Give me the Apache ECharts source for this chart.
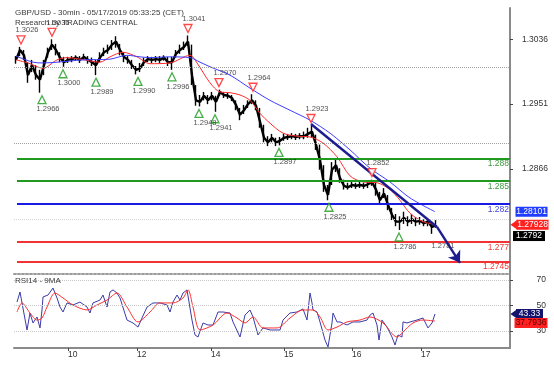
<!DOCTYPE html>
<html><head><meta charset="utf-8">
<script src="https://cdn.jsdelivr.net/npm/echarts@6/dist/echarts.min.js"></script>
<style>html,body{margin:0;padding:0;background:#fff}#c{width:554px;height:365px}</style>
</head><body><div id="c"></div>
<script>
// ---------- DATA ----------
const titleLine1 = 'GBP/USD - 30min - 05/17/2019 05:33:25 (CET)';
const titleLine2 = 'Research by TRADING CENTRAL';
const rsiTitle = 'RSI14 - 9MA';

// price path, one sample per step (index 0..105)
const closes = [1.3009,1.3022,1.3015,1.2989,1.3002,1.2989,1.2983,1.3002,1.3019,1.3029,
1.3022,1.3012,1.3006,1.3009,1.3010,1.3012,1.3009,1.3013,1.3009,1.3006,
1.3002,1.3012,1.3019,1.3022,1.3029,1.3033,1.3022,1.3013,1.3009,1.3002,
1.2996,1.2998,1.3006,1.3010,1.3009,1.3010,1.3009,1.3012,1.3006,1.3006,
1.3017,1.3022,1.3026,1.3033,1.2989,1.2956,1.2954,1.2962,1.2956,1.2962,
1.2954,1.2967,1.2963,1.2962,1.2959,1.2950,1.2937,1.2943,1.2951,1.2956,
1.2949,1.2928,1.2907,1.2901,1.2907,1.2901,1.2903,1.2907,1.2908,1.2909,
1.2908,1.2909,1.2909,1.2912,1.2915,1.2898,1.2878,1.2845,1.2832,1.2865,
1.2871,1.2854,1.2844,1.2842,1.2845,1.2844,1.2845,1.2844,1.2846,1.2849,
1.2839,1.2825,1.2834,1.2819,1.2806,1.2797,1.2797,1.2802,1.2797,1.2800,
1.2797,1.2798,1.2795,1.2797,1.2790,1.2792];
const highs = [1.3014,1.3026,1.3022,1.3006,1.3009,1.3002,1.2996,1.3009,1.3025,1.3036,
1.3030,1.3019,1.3013,1.3013,1.3014,1.3015,1.3014,1.3017,1.3014,1.3012,
1.3009,1.3019,1.3025,1.3029,1.3035,1.3040,1.3030,1.3019,1.3014,1.3009,
1.3001,1.3005,1.3012,1.3014,1.3013,1.3014,1.3014,1.3015,1.3013,1.3013,
1.3022,1.3029,1.3033,1.3041,1.3029,1.2976,1.2963,1.2967,1.2963,1.2967,
1.2962,1.2970,1.2967,1.2966,1.2963,1.2956,1.2946,1.2950,1.2956,1.2964,
1.2956,1.2946,1.2924,1.2909,1.2912,1.2907,1.2908,1.2912,1.2912,1.2913,
1.2912,1.2913,1.2915,1.2920,1.2923,1.2911,1.2898,1.2871,1.2845,1.2875,
1.2878,1.2867,1.2852,1.2848,1.2849,1.2848,1.2849,1.2848,1.2850,1.2852,
1.2849,1.2836,1.2841,1.2832,1.2815,1.2807,1.2804,1.2810,1.2804,1.2807,
1.2803,1.2803,1.2800,1.2800,1.2797,1.2799];
const lows = [1.3004,1.3014,1.3009,1.2979,1.2993,1.2983,1.2966,1.2989,1.3012,1.3022,
1.3015,1.3006,1.3000,1.3005,1.3006,1.3008,1.3005,1.3009,1.3004,1.3001,
1.2989,1.3006,1.3014,1.3017,1.3022,1.3025,1.3015,1.3006,1.3004,1.2997,
1.2990,1.2993,1.3001,1.3006,1.3005,1.3006,1.3005,1.3008,1.3001,1.2996,
1.3012,1.3017,1.3022,1.3027,1.2976,1.2949,1.2948,1.2956,1.2951,1.2956,
1.2941,1.2962,1.2959,1.2958,1.2955,1.2943,1.2930,1.2938,1.2946,1.2951,
1.2943,1.2920,1.2901,1.2896,1.2901,1.2896,1.2897,1.2903,1.2904,1.2905,
1.2904,1.2905,1.2905,1.2907,1.2907,1.2891,1.2865,1.2836,1.2825,1.2845,
1.2862,1.2848,1.2839,1.2839,1.2841,1.2840,1.2841,1.2840,1.2841,1.2844,
1.2831,1.2819,1.2828,1.2812,1.2799,1.2791,1.2786,1.2794,1.2791,1.2794,
1.2791,1.2793,1.2791,1.2791,1.2781,1.2789];

// moving averages on price
const maRedX = [0,3,6.75,10.25,12.75,16,21,23.5,26.75,30.25,33.5,38.5,43.5,45.25,48.5,51,53.5,56,58.5,61,63.5,66.75,70.25,73.5,76.75,80.25,83.5,86.75,90.25,93.5,96,98.5,101.75,105];
const maRedVals = [1.3009,1.3005,1.2998,1.3009,1.3012,1.3010,1.3006,1.3013,1.3019,1.3013,1.3004,1.3005,1.3015,1.3005,1.2979,1.2967,1.2966,1.2963,1.2956,1.2939,1.2926,1.2913,1.2909,1.2908,1.2900,1.2882,1.2857,1.2849,1.2848,1.2839,1.2825,1.2808,1.2797,1.2793];
const maBlueX = [0,4.25,6.75,10.25,16.75,23.5,27.75,31,33.5,38.5,43.5,46,48.5,53.5,58.5,63.5,68.5,73.5,78.5,83.5,88.5,93.5,98.5,104.75];
const maBlueVals = [1.3014,1.3006,1.3005,1.3006,1.3009,1.3010,1.3015,1.3013,1.3012,1.3013,1.3012,1.3006,1.3000,1.2989,1.2972,1.2956,1.2943,1.2930,1.2913,1.2891,1.2867,1.2849,1.2828,1.2810];

// swing markers
const highMarkX = [1.25,9,43,50.75,59.25,73.75,89];
const highMarkVals = [1.3026,1.3036,1.3041,1.2970,1.2964,1.2923,1.2852];
const lowMarkX = [6.5,11.75,20,30.5,39,45.75,49.75,65.75,78.25,95.75,105.25];
const lowMarkVals = [1.2966,1.3000,1.2989,1.2990,1.2996,1.2948,1.2941,1.2897,1.2825,1.2786,1.2781];
const lowMarkVisible = [true,true,true,true,true,true,true,true,true,true,false];

// trend line + projection arrow
const trendX = [73.75,105.25];
const trendVals = [1.2925,1.2790];
const arrowX = [105.25,111];
const arrowVals = [1.2790,1.2743];

// horizontal key levels
const levelVals = [1.288,1.285,1.282,1.277,1.2745];
// faint dotted grid levels
const gridLevels = [1.3036,1.3009,1.2996,1.2960,1.2951,1.2947,1.2926,1.2913,1.2895,1.2866,1.2802,1.2782,1.2760];
const priceTicks = [1.2866,1.2951,1.3036];
// right-side value boxes
const blueMaBox = 1.28101;
const redMaBox = 1.27928;
const lastPriceBox = 1.2792;

// date axis
const dateTickX = [13,30.25,48.75,67,84,101.25];
const dateLabels = ['10','12','14','15','16','17'];

// RSI panel
const rsiX = [0.25,1,1.5,2.75,3.5,4.25,5.25,6,6.5,6.75,8,9.25,10.25,11,11.75,12.75,14.25,16,17.75,18.5,19.25,21,21.75,22.75,23.5,24.25,25.25,26,27.75,29.25,30.5,31.5,32.75,34.25,36,37.75,38.5,39.25,40.25,41,41.75,42.75,44,44.75,45.5,46,46.75,48,49.25,50.5,51.75,53.5,54.25,56,57.25,58.5,59.25,60.5,61.75,63.5,66,66.75,68.5,70.25,71.75,72.75,73.5,74,74.25,75.25,76,77.25,78,79,79.25,80.25,81,82.75,84.25,86,87.75,88.5,89.25,90.25,90.75,91.5,92.75,94,94.75,95.5,96.5,96.75,97.75,98.5,100.25,101.75,103,104,104.75];
const rsiVals = [52.7,60.6,59.8,30.8,44.1,36.3,41.0,32.4,46.5,56.7,58.2,63.7,55.9,48.8,44.9,52.0,50.4,52.7,48.8,44.1,52.0,54.3,58.2,48.8,60.6,62.2,59.8,55.9,38.6,36.3,33.1,40.2,48.8,52.0,52.0,50.4,44.9,52.7,58.2,54.3,59.8,62.2,38.6,26.9,25.3,25.3,36.3,34.7,34.7,44.9,44.9,44.1,37.1,25.3,42.5,46.5,41.0,26.9,32.4,30.8,30.8,38.6,44.1,44.9,47.3,38.6,59.8,52.0,46.5,44.9,37.1,22.9,17.5,36.3,44.1,37.1,37.1,34.7,37.1,37.1,38.6,42.5,44.1,34.7,22.9,38.6,33.1,25.3,19.0,26.9,25.3,37.1,36.3,37.1,38.6,40.2,32.4,36.3,43.33];
const rsiMaX = [0.25,1.5,3.5,5.25,6.5,7.75,9.75,11.75,14.25,17.75,20.25,22.75,25.25,27.75,30.5,33.5,36,39.25,41.75,43,44.25,46,49.25,52.75,55.25,57.25,59.25,61.75,65.25,68.5,71.75,74.25,76,78,80.25,82.75,86,88.5,91.75,95.25,96.75,99.25,101.75,104.75];
const rsiMaVals = [44.9,52.0,44.1,38.6,40.2,48.8,59.8,55.9,50.4,46.5,50.4,54.3,59.8,48.8,37.1,44.9,52.0,52.0,55.9,62.2,48.8,30.8,34.7,44.1,40.2,36.3,41.0,32.4,32.4,40.2,46.5,46.5,41.0,30.8,33.1,37.1,38.6,41.0,36.3,25.3,29.2,36.3,38.6,37.79];
const rsiTicks = [30,50,70];
const rsiBox = 43.33;
const rsiMaBox = 37.7936;

// ---------- STYLE / LAYOUT ----------
const X_MIN = -0.5, X_MAX = 123.5;
const P_MIN = 1.272835, P_MAX = 1.307703;
const R_MIN = 16.67, R_MAX = 73.92;
const FONT = 'Liberation Sans, Arial, sans-serif';
const levelLineColors = ['#1f9a1f','#1f9a1f','#1a1ae6','#f23333','#f23333'];
const levelTextColors = ['#3f9a3f','#3f9a3f','#4444dd','#f03c3c','#f03c3c'];

const pair = (xs, ys) => xs.map((x, k) => [x, ys[k]]);
const idx = closes.map((_, i) => i);
const majorSet = new Set(priceTicks);

const chart = echarts.init(document.getElementById('c'), null, {renderer: 'canvas'});
const txt = (size, color) => ({fontSize: size, fontWeight: 'normal', color: color || '#333', fontFamily: FONT});

// value box: a rect markPoint at the right edge with the value written inside
const box = (v, bg, fg, w, dx, dy) => ({
  coord: [X_MAX, v], symbol: 'rect', symbolSize: [w, 10], symbolOffset: [dx, dy || 0],
  itemStyle: {color: bg},
  label: {show: true, position: 'inside', formatter: String(v), color: fg, fontSize: 8.5, fontFamily: FONT}
});
const pointer = (v, bg) => ({coord: [X_MAX, v], symbol: 'triangle', symbolRotate: 90, symbolSize: [10, 7], symbolOffset: [4, 0],
  itemStyle: {color: bg}, label: {show: false}});
const dummy = (xi, yi, y0, z, extra) => Object.assign({type: 'line', xAxisIndex: xi, yAxisIndex: yi, data: [[0, y0]], showSymbol: false,
  lineStyle: {opacity: 0}, z: z, silent: true}, extra);

const option = {
  animation: false,
  backgroundColor: '#ffffff',
  textStyle: {fontFamily: FONT},
  title: [
    {text: titleLine1, left: 15, top: 9, padding: 0, textStyle: txt(8, '#3a3a3a')},
    {text: titleLine2, left: 15, top: 18.5, padding: 0, textStyle: txt(8, '#3a3a3a')},
    {text: rsiTitle, left: 15, top: 277, padding: 0, textStyle: txt(8, '#3a3a3a')}
  ],
  grid: [
    {left: 14, right: 44, top: 8, height: 266},
    {left: 14, right: 44, top: 275, height: 73}
  ],
  xAxis: [
    {type: 'value', gridIndex: 0, min: X_MIN, max: X_MAX,
     axisLine: {show: true, onZero: false, lineStyle: {color: '#9a9a9a', width: 2, type: 'dotted'}},
     axisTick: {show: false}, axisLabel: {show: false}, splitLine: {show: false}},
    {type: 'value', gridIndex: 1, min: X_MIN, max: X_MAX,
     axisLine: {show: true, onZero: false, lineStyle: {color: '#8a8a8a', width: 2}},
     axisTick: {show: true, customValues: dateTickX, length: 3, lineStyle: {color: '#444'}},
     axisLabel: {show: true, customValues: dateTickX, align: 'left', margin: 2, fontSize: 8.5, color: '#333',
       formatter: v => { let b = 0; dateTickX.forEach((t, k) => { if (Math.abs(t - v) < Math.abs(dateTickX[b] - v)) b = k; }); return dateLabels[b]; }},
     splitLine: {show: false}}
  ],
  yAxis: [
    {type: 'value', gridIndex: 0, position: 'right', min: P_MIN, max: P_MAX,
     axisLine: {show: true, onZero: false, lineStyle: {color: '#8a8a8a', width: 2}},
     axisTick: {show: true, customValues: priceTicks, length: 3, lineStyle: {color: '#444'}},
     axisLabel: {show: true, customValues: priceTicks, align: 'right', margin: 38, fontSize: 8.5, color: '#333',
       formatter: v => v.toFixed(4)},
     splitLine: {show: false}},
    {type: 'value', gridIndex: 1, position: 'right', min: R_MIN, max: R_MAX,
     axisLine: {show: true, onZero: false, lineStyle: {color: '#8a8a8a', width: 2}},
     axisTick: {show: true, customValues: rsiTicks, length: 3, lineStyle: {color: '#444'}},
     axisLabel: {show: true, customValues: rsiTicks, align: 'right', margin: 36, fontSize: 8.5, color: '#333',
       formatter: v => String(Math.round(v))},
     splitLine: {show: false}}
  ],
  series: [
    // faint dotted grid levels
    dummy(0, 0, closes[0], 1, {markLine: {silent: true, symbol: 'none', label: {show: false},
       data: gridLevels.map(v => ({yAxis: v, lineStyle: {color: majorSet.has(v) ? '#a0a0a0' : '#d4d4d4', type: 'dotted', width: 1}}))}}),
    // key horizontal levels
    dummy(0, 0, closes[0], 2, {markLine: {silent: true, symbol: 'none',
       data: levelVals.map((v, k) => [
         {coord: [0.25, v], lineStyle: {color: levelLineColors[k], width: 2, type: 'solid'},
          label: {show: true, position: 'insideEndBottom', distance: [1, 1], formatter: String(v), color: levelTextColors[k], fontSize: 8.5}},
         {coord: [X_MAX, v]}
       ])}}),
    // high-low wicks
    {type: 'candlestick', xAxisIndex: 0, yAxisIndex: 0, z: 3, barWidth: 1,
     encode: {x: 0, y: [1, 2, 3, 4]},
     itemStyle: {color: '#000', color0: '#000', borderColor: '#000', borderColor0: '#000', borderWidth: 1.4},
     data: idx.map(i => [i, closes[i], closes[i], lows[i], highs[i]])},
    // close path
    {type: 'line', xAxisIndex: 0, yAxisIndex: 0, z: 3, showSymbol: false, data: pair(idx, closes),
     lineStyle: {color: '#000', width: 2.4}},
    // red MA
    {type: 'line', xAxisIndex: 0, yAxisIndex: 0, z: 4, showSymbol: false, smooth: 0.3, data: pair(maRedX, maRedVals),
     lineStyle: {color: '#ff2b2b', width: 1}},
    // blue MA
    {type: 'line', xAxisIndex: 0, yAxisIndex: 0, z: 4, showSymbol: false, smooth: 0.3, data: pair(maBlueX, maBlueVals),
     lineStyle: {color: '#3d3dff', width: 1}},
    // value boxes (price)
    dummy(0, 0, closes[0], 8, {markPoint: {silent: true, data: [
      box(blueMaBox, '#1f3cff', '#ffffff', 32, 21.5, 0),
      pointer(redMaBox, '#ff2020'),
      box(redMaBox, '#ff2020', '#ffffff', 32, 22.5, 0),
      box(lastPriceBox, '#000000', '#ffffff', 32, 19, 10.6)
    ]}}),
    // trend line and projection
    {type: 'line', xAxisIndex: 0, yAxisIndex: 0, z: 5, showSymbol: false, data: pair(trendX, trendVals),
     lineStyle: {color: '#1c1c8f', width: 2.4},
     markLine: {silent: true, symbol: ['none', 'arrow'], symbolSize: 11, label: {show: false},
       lineStyle: {color: '#1c1c8f', width: 2.4, type: 'solid'},
       data: [[{coord: [arrowX[0], arrowVals[0]]}, {coord: [arrowX[1], arrowVals[1]]}]]}},
    // swing highs
    {type: 'scatter', xAxisIndex: 0, yAxisIndex: 0, z: 6, symbol: 'triangle', symbolRotate: 180, symbolSize: 8, symbolOffset: [0, -7],
     itemStyle: {color: '#fff', borderColor: '#ff1a1a', borderWidth: 1.3},
     label: {show: true, position: 'top', distance: 1, offset: [6, 0], fontSize: 7.5, color: '#222', formatter: p => p.value[1].toFixed(4)},
     data: pair(highMarkX, highMarkVals)},
    // swing lows
    {type: 'scatter', xAxisIndex: 0, yAxisIndex: 0, z: 6, symbol: 'triangle', symbolSize: 8, symbolOffset: [0, 7],
     itemStyle: {color: '#fff', borderColor: '#1a9a1a', borderWidth: 1.3},
     label: {show: true, position: 'bottom', distance: 1, offset: [6, 0], fontSize: 7.5, color: '#222', formatter: p => p.value[1].toFixed(4)},
     data: lowMarkX.map((x, k) => ({value: [x, lowMarkVals[k]], symbolSize: lowMarkVisible[k] ? 8 : 0}))},
    // RSI grid levels
    dummy(1, 1, rsiVals[0], 1, {markLine: {silent: true, symbol: 'none', label: {show: false},
       data: rsiTicks.map(v => ({yAxis: v, lineStyle: {color: '#c8c8c8', type: 'dotted', width: 1}}))}}),
    // RSI
    {type: 'line', xAxisIndex: 1, yAxisIndex: 1, z: 3, showSymbol: false, data: pair(rsiX, rsiVals),
     lineStyle: {color: '#3b3ba8', width: 1}},
    // RSI MA
    {type: 'line', xAxisIndex: 1, yAxisIndex: 1, z: 4, showSymbol: false, smooth: 0.3, data: pair(rsiMaX, rsiMaVals),
     lineStyle: {color: '#ff3030', width: 1}},
    // value boxes (RSI)
    dummy(1, 1, rsiVals[0], 8, {markPoint: {silent: true, data: [
      pointer(rsiBox, '#14146e'),
      box(rsiBox, '#14146e', '#ffffff', 27, 19.5, 0),
      box(rsiMaBox, '#ff2020', '#5a0000', 33, 21, 2)
    ]}})
  ]
};
chart.setOption(option);
</script>
</body></html>
